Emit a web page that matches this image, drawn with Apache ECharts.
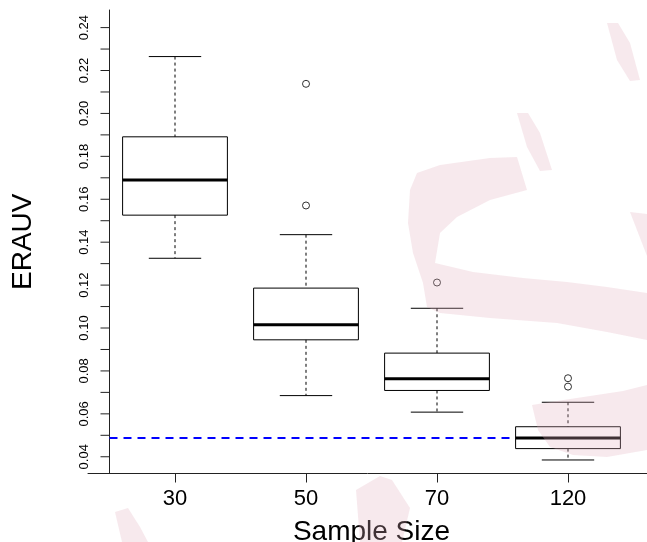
<!DOCTYPE html>
<html>
<head>
<meta charset="utf-8">
<script src="https://cdn.jsdelivr.net/npm/echarts@6/dist/echarts.min.js"></script>
<style>
html,body{margin:0;padding:0;background:#fff;}
#chart{width:647px;height:542px;}
</style>
</head>
<body>
<div id="chart"></div>
<script>
// ---- data ----
const categories = ['30', '50', '70', '120'];
const lowerWhisker = [0.1325, 0.0685, 0.0608, 0.0385];
const q1 = [0.1526, 0.0945, 0.0709, 0.0438];
const median = [0.1690, 0.1015, 0.0763, 0.0487];
const q3 = [0.1891, 0.1186, 0.0883, 0.0540];
const upperWhisker = [0.2265, 0.1435, 0.1092, 0.0654];
const outlierGroup = [1, 1, 2, 3, 3];
const outlierValue = [0.2138, 0.1571, 0.1212, 0.0766, 0.0727];
const referenceLevel = 0.0487;
const yTickValues = [0.04, 0.05, 0.06, 0.07, 0.08, 0.09, 0.10, 0.11, 0.12, 0.13, 0.14, 0.15, 0.16, 0.17, 0.18, 0.19, 0.20, 0.21, 0.22, 0.23, 0.24];
const yLabelValues = [0.04, 0.06, 0.08, 0.10, 0.12, 0.14, 0.16, 0.18, 0.20, 0.22, 0.24];

// ---- style constants ----
const BOX_WEX = 0.8;
const STAPLE = 0.5;
const TICK_LEN = 9;
const FONT = "'Liberation Sans', Arial, Helvetica, sans-serif";
const AXIS_COLOR = '#222';

const boxData = categories.map((c, i) => [i, lowerWhisker[i], q1[i], median[i], q3[i], upperWhisker[i]]);
const outlierData = outlierGroup.map((g, i) => [g, outlierValue[i]]);
const refLineData = [[-0.5, referenceLevel], [categories.length - 1 - BOX_WEX / 2, referenceLevel]];
const yTickData = yTickValues.map(v => [-0.5, v]);

function renderBox(params, api) {
  const x = api.value(0);
  const lo = api.coord([x, api.value(1)]);
  const b1 = api.coord([x, api.value(2)]);
  const md = api.coord([x, api.value(3)]);
  const b3 = api.coord([x, api.value(4)]);
  const hi = api.coord([x, api.value(5)]);
  const band = api.size([1, 0])[0];
  const w = band * BOX_WEX;
  const cw = w * STAPLE;
  const cx = lo[0];
  const dashed = { stroke: '#000', lineWidth: 1, lineDash: [3, 3] };
  const solid = { stroke: '#000', lineWidth: 1 };
  return {
    type: 'group',
    children: [
      { type: 'line', shape: { x1: cx, y1: hi[1], x2: cx, y2: b3[1] }, style: dashed },
      { type: 'line', shape: { x1: cx, y1: b1[1], x2: cx, y2: lo[1] }, style: dashed },
      { type: 'line', shape: { x1: cx - cw / 2, y1: hi[1], x2: cx + cw / 2, y2: hi[1] }, style: solid },
      { type: 'line', shape: { x1: cx - cw / 2, y1: lo[1], x2: cx + cw / 2, y2: lo[1] }, style: solid },
      { type: 'rect', shape: { x: cx - w / 2, y: b3[1], width: w, height: b1[1] - b3[1] }, style: { fill: 'none', stroke: '#000', lineWidth: 1 } },
      { type: 'line', shape: { x1: cx - w / 2, y1: md[1], x2: cx + w / 2, y2: md[1] }, style: { stroke: '#000', lineWidth: 3 } }
    ]
  };
}

function renderTick(params, api) {
  const p = api.coord([api.value(0), api.value(1)]);
  return { type: 'line', shape: { x1: p[0] - TICK_LEN, y1: p[1], x2: p[0], y2: p[1] }, style: { stroke: AXIS_COLOR, lineWidth: 1 } };
}

// watermark fragments (decoration, pixel space)
const WM = 'rgba(225,175,192,0.28)';
const watermark = [
  [[517,157],[490,158],[440,165],[417,173],[410,190],[408,223],[413,253],[423,283],[427,307],[440,313],[490,318],[557,323],[607,332],[647,340],[647,293],[607,287],[567,282],[523,278],[473,272],[435,263],[440,233],[457,217],[490,200],[527,190]],
  [[532,405],[557,401],[590,396],[623,391],[647,385],[647,450],[607,457],[573,455],[550,447],[538,430]],
  [[607,23],[618,23],[630,43],[640,80],[630,81],[617,60]],
  [[517,113],[528,113],[540,133],[552,170],[540,171],[527,147]],
  [[630,212],[647,214],[647,256]],
  [[115,512],[128,508],[140,527],[148,542],[122,542]],
  [[356,490],[380,476],[392,480],[410,508],[402,542],[360,542]]
].map(pts => ({ type: 'polygon', z: 100, silent: true, shape: { points: pts }, style: { fill: WM } }));

const chart = echarts.init(document.getElementById('chart'), null, { renderer: 'canvas' });
chart.setOption({
  animation: false,
  backgroundColor: '#fff',
  textStyle: { fontFamily: FONT },
  grid: [
    { left: 109.5, top: 10, width: 524, bottom: 68.5, containLabel: false, outerBoundsMode: 'none' },
    { left: 88, right: 0, top: 10, bottom: 68.5, containLabel: false, outerBoundsMode: 'none' }
  ],
  xAxis: [
    {
      type: 'category', gridIndex: 0, data: categories, boundaryGap: true,
      axisLine: { show: false, onZero: false },
      axisTick: { show: true, alignWithLabel: true, length: TICK_LEN, lineStyle: { color: AXIS_COLOR, width: 1 } },
      axisLabel: { fontSize: 22, color: '#000', margin: 14, fontFamily: FONT },
      splitLine: { show: false },
      name: 'Sample Size', nameLocation: 'middle', nameGap: 45,
      nameTextStyle: { fontSize: 28, color: '#000', fontFamily: FONT }
    },
    { type: 'value', gridIndex: 0, min: -0.5, max: categories.length - 0.5, show: false },
    {
      type: 'value', gridIndex: 1, min: 0, max: 1,
      axisLine: { show: true, onZero: false, lineStyle: { color: AXIS_COLOR, width: 1 } },
      axisTick: { show: false }, axisLabel: { show: false }, splitLine: { show: false }
    }
  ],
  yAxis: [
    {
      type: 'value', gridIndex: 0, min: 0.0322, max: 0.2482,
      axisLine: { show: true, onZero: false, lineStyle: { color: AXIS_COLOR, width: 1 } },
      axisTick: { show: false },
      axisLabel: {
        customValues: yLabelValues, rotate: 90, fontSize: 13, color: '#000', margin: 19, fontFamily: FONT,
        formatter: v => Number(v).toFixed(2)
      },
      splitLine: { show: false },
      name: 'ERAUV', nameLocation: 'middle', nameGap: 72,
      nameTextStyle: { fontSize: 28, color: '#000', fontFamily: FONT }
    },
    { type: 'value', gridIndex: 1, min: 0, max: 1, show: false }
  ],
  series: [
    {
      type: 'custom', xAxisIndex: 1, yAxisIndex: 0, data: yTickData, renderItem: renderTick,
      encode: { x: 0, y: 1 }, clip: false, silent: true, z: 1
    },
    {
      type: 'line', xAxisIndex: 1, yAxisIndex: 0, data: refLineData, symbol: 'none',
      lineStyle: { color: '#0000ff', width: 2, type: [8, 6] }, silent: true, z: 1
    },
    {
      type: 'custom', xAxisIndex: 0, yAxisIndex: 0, data: boxData, renderItem: renderBox,
      encode: { x: 0, y: [1, 2, 3, 4, 5] }, z: 2
    },
    {
      type: 'scatter', xAxisIndex: 0, yAxisIndex: 0, data: outlierData, symbol: 'circle', symbolSize: 7,
      itemStyle: { color: 'rgba(0,0,0,0)', borderColor: '#000', borderWidth: 1 }, z: 3
    }
  ],
  graphic: watermark
});
</script>
</body>
</html>
